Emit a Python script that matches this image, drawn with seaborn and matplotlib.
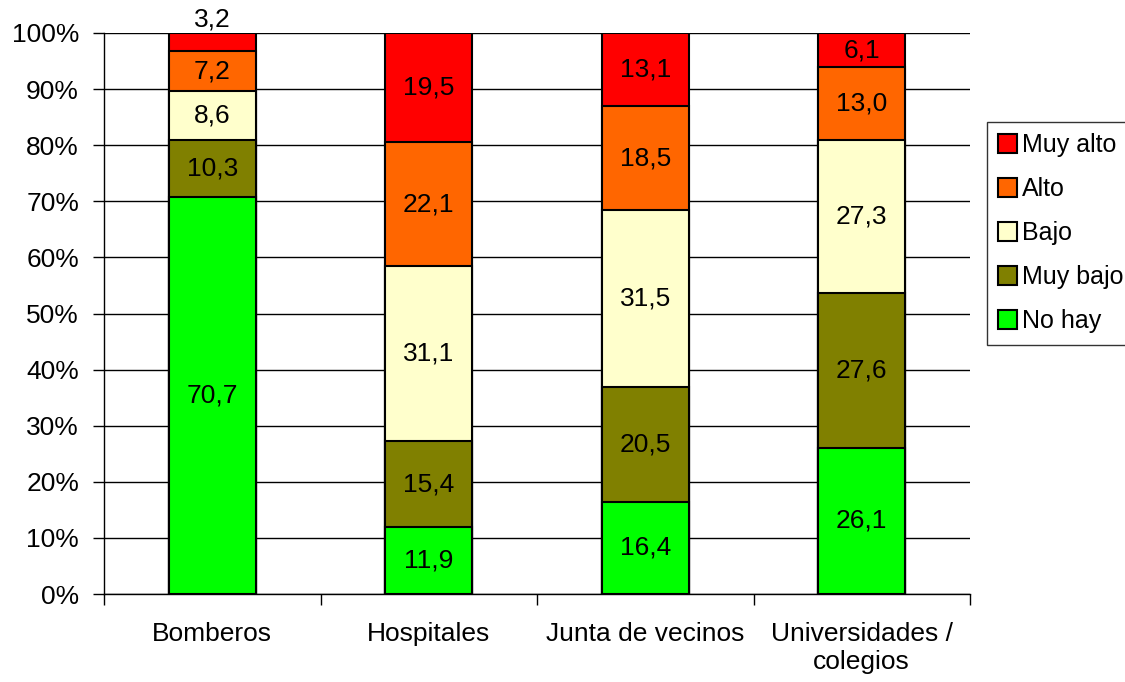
import matplotlib
matplotlib.use("Agg")
import matplotlib.pyplot as plt
import seaborn as sns
import numpy as np
import pandas as pd
from matplotlib.patches import Patch

categories = ["Bomberos", "Hospitales", "Junta de vecinos", "Universidades /\ncolegios"]
series = ["No hay", "Muy bajo", "Bajo", "Alto", "Muy alto"]
no_hay = [70.7, 11.9, 16.4, 26.1]
muy_bajo = [10.3, 15.4, 20.5, 27.6]
bajo = [8.6, 31.1, 31.5, 27.3]
alto = [7.2, 22.1, 18.5, 13.0]
muy_alto = [3.2, 19.5, 13.1, 6.1]
colors = ["#00FF00", "#808000", "#FFFFCC", "#FF6600", "#FF0000"]
yticks = [0, 10, 20, 30, 40, 50, 60, 70, 80, 90, 100]

sns.set_style("white")
plt.rcParams["font.family"] = ["Liberation Sans", "DejaVu Sans"]
plt.rcParams["text.color"] = "black"
plt.rcParams["xtick.color"] = "black"
plt.rcParams["ytick.color"] = "black"
plt.rcParams["xtick.labelcolor"] = "black"
plt.rcParams["ytick.labelcolor"] = "black"
FS = 19

vals = np.array([no_hay, muy_bajo, bajo, alto, muy_alto])
pct = vals / vals.sum(axis=0) * 100
cum = np.cumsum(pct, axis=0)

fig = plt.figure(figsize=(11.25, 6.82), dpi=100)
ax = fig.add_axes([104/1125, 1-594/682, (970-104)/1125, (594-33)/682])

for i in range(len(series) - 1, -1, -1):
    df = pd.DataFrame({"cat": categories, "val": cum[i]})
    sns.barplot(data=df, x="cat", y="val", color=colors[i], width=0.4,
                edgecolor="black", linewidth=1.5, saturation=1, ax=ax, zorder=3)

for i in range(len(series)):
    for j in range(len(categories)):
        v = vals[i, j]
        txt = f"{v:.1f}".replace(".", ",")
        if pct[i, j] < 4:
            ax.text(j, 100.3, txt, ha="center", va="bottom", fontsize=FS,
                    color="black", zorder=5)
        else:
            ax.text(j, cum[i, j] - pct[i, j] / 2, txt, ha="center", va="center",
                    fontsize=FS, color="black", zorder=5)

ax.set_xlim(-0.5, 3.5)
ax.set_ylim(0, 100)
ax.set_yticks(yticks)
ax.set_yticklabels([f"{t}%" for t in yticks], fontsize=FS)
ax.set_xticks(range(len(categories)))
ax.set_xticklabels(categories, fontsize=FS)
ax.set_xticks([-0.5, 0.5, 1.5, 2.5, 3.5], minor=True)
ax.tick_params(axis="x", which="major", length=0, pad=20)
ax.tick_params(axis="x", which="minor", length=8, width=1, color="black", direction="out", bottom=True)
ax.tick_params(axis="y", length=8, width=1, color="black", direction="out", left=True, pad=10)
ax.set_xlabel("")
ax.set_ylabel("")
ax.yaxis.grid(True, color="black", linewidth=1, zorder=0)
ax.set_axisbelow(True)
for s in ["top", "right"]:
    ax.spines[s].set_visible(False)
for s in ["left", "bottom"]:
    ax.spines[s].set_color("black")
    ax.spines[s].set_linewidth(1)

handles = [Patch(facecolor=colors[i], edgecolor="black", linewidth=1.5, label=series[i])
           for i in range(len(series) - 1, -1, -1)]
leg = fig.legend(handles=handles, loc="upper left", bbox_to_anchor=(987/1125, 1-122/682),
                 fontsize=18, frameon=True, fancybox=False, edgecolor="black",
                 handlelength=0.75, handleheight=0.75, handletextpad=0.2,
                 labelspacing=0.8, borderpad=0.45, borderaxespad=0)
leg.get_frame().set_linewidth(1)

fig.savefig("out.png", dpi=100)
